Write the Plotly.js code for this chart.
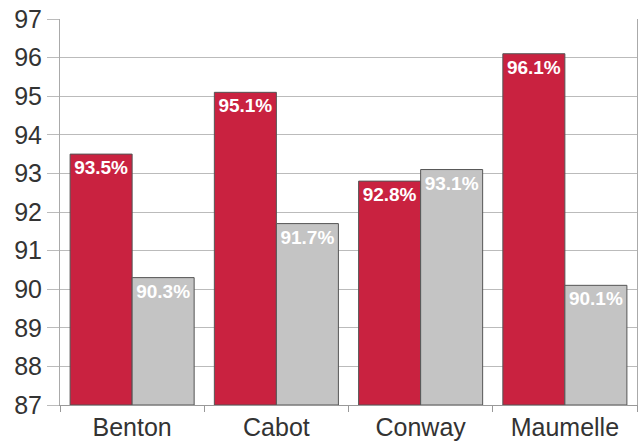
<!DOCTYPE html>
<html><head><meta charset="utf-8">
<script src="https://cdn.plot.ly/plotly-3.0.1.min.js"></script>
<style>html,body{margin:0;padding:0;background:#fff}#c{width:642px;height:443px}</style>
</head><body><div id="c"></div>
<script>
const categories = ["Benton", "Cabot", "Conway", "Maumelle"];
const seriesA = [93.5, 95.1, 92.8, 96.1];
const seriesB = [90.3, 91.7, 93.1, 90.1];
const yTicks = [87, 88, 89, 90, 91, 92, 93, 94, 95, 96, 97];
const yBase = 87;

function fmt(v){ return v.toFixed(1) + "%"; }
const common = {
  type: "bar", base: 0,
  textposition: "inside", insidetextanchor: "end", textangle: 0,
  constraintext: "none", cliponaxis: false,
  textfont: {family: "Liberation Sans, Arial, sans-serif", size: 19, color: "#ffffff", weight: "bold"},
  hoverinfo: "none"
};
const traces = [
  Object.assign({}, common, {x: categories, y: seriesA.map(v => v - yBase), text: seriesA.map(fmt),
    marker: {color: "#c92240", line: {color: "#555555", width: 1}}}),
  Object.assign({}, common, {x: categories, y: seriesB.map(v => v - yBase), text: seriesB.map(fmt),
    marker: {color: "#c4c4c4", line: {color: "#555555", width: 1}}})
];
const layout = {
  width: 642, height: 443,
  margin: {l: 60, r: 5, t: 19, b: 38},
  paper_bgcolor: "#ffffff", plot_bgcolor: "#ffffff",
  barmode: "group", bargap: 0.14, bargroupgap: 0,
  showlegend: false,
  font: {family: "Liberation Sans, Arial, sans-serif", color: "#333333"},
  xaxis: {
    showgrid: false, showline: true, linecolor: "#999999", linewidth: 1,
    ticks: "outside", tickson: "boundaries", ticklen: 6, tickcolor: "#999999",
    tickfont: {size: 25, color: "#333333"}
  },
  yaxis: {
    range: [0, 10], tickvals: yTicks.map(v => v - yBase), ticktext: yTicks.map(String),
    showgrid: true, gridcolor: "#bbbbbb", gridwidth: 1,
    showline: true, mirror: true, linecolor: "#aaaaaa", linewidth: 1,
    ticks: "outside", ticklen: 12, tickcolor: "#bbbbbb",
    tickfont: {size: 25, color: "#333333"}, zeroline: false
  }
};
Plotly.newPlot("c", traces, layout, {staticPlot: true});
</script></body></html>
